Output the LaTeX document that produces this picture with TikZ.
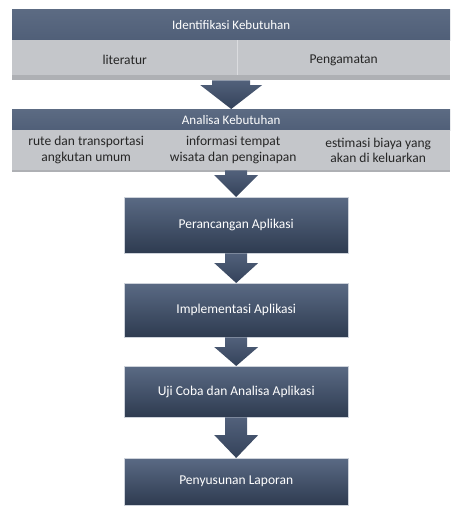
\documentclass[tikz,border=0pt]{standalone}
\usepackage{fontspec}
\setmainfont{Carlito}
\usetikzlibrary{calc}

\definecolor{barblue}{HTML}{5C6B83}
\definecolor{barbluelow}{HTML}{505F78}
\definecolor{bandgray}{HTML}{C4C6CA}
\definecolor{bandshade}{HTML}{AEB0B4}
\definecolor{stagetop}{HTML}{5A6A84}
\definecolor{stagelow}{HTML}{2E3B50}
\definecolor{arrowtop}{HTML}{52617B}
\definecolor{arrowlow}{HTML}{34425A}

\tikzset{
	bar/.style={rectangle, anchor=north west, inner sep=0pt, top color=barblue, bottom color=barbluelow,
		text=white, font=\fontsize{13}{15}\selectfont},
	band/.style={rectangle, anchor=north west, inner sep=0pt, fill=bandgray,
		text=black!85, align=center, font=\fontsize{13.5}{15.5}\selectfont},
	stage/.style={rectangle, anchor=north west, inner sep=0pt, minimum width=224pt,
		top color=stagetop, bottom color=stagelow, draw=white!70!stagetop, line width=0.4pt,
		text=white, font=\fontsize{13.5}{15}\selectfont},
	arrowshade/.style={top color=arrowtop, bottom color=arrowlow}
}

% block arrow: from, to, stem half width, head half width, head length
\newcommand{\stagearrow}[5]{%
	\shade[arrowshade] ($(#2.north |- #1.south)+(-#3,0)$) -- ($(#2.north)+(-#3,-#5)$)
		-- ($(#2.north)+(-#4,-#5)$) -- (#2.north) -- ($(#2.north)+(#4,-#5)$)
		-- ($(#2.north)+(#3,-#5)$) -- ($(#2.north |- #1.south)+(#3,0)$) -- cycle;}

\begin{document}
\begin{tikzpicture}[x=1pt, y=-1pt]

		\useasboundingbox (0,0) rectangle (450,506);

		% Identifikasi Kebutuhan
		\node[bar, minimum width=438pt, minimum height=31pt] (idk) at (12,9) {Identifikasi Kebutuhan};
		\node[band, minimum width=225pt, minimum height=40pt] (lit) at (12,40) {literatur};
		\node[band, minimum width=213pt, minimum height=40pt] (pgm) at (237,40) {Pengamatan};
		\fill[bandshade] ($(lit.south west)+(0,-5)$) rectangle (pgm.south east);
		\draw[white, opacity=0.4] (pgm.north west) -- ($(pgm.south west)+(0,-5)$);

		% Analisa Kebutuhan
		\node[bar, minimum width=438pt, minimum height=21pt] (akb) at (12,109) {Analisa Kebutuhan};
		\node[band, minimum width=148pt, minimum height=40pt] (rute) at (12,130)
			{rute dan transportasi\\angkutan umum};
		\node[band, minimum width=146pt, minimum height=40pt] (inf) at (160,130)
			{informasi tempat\\wisata dan penginapan};
		\node[band, minimum width=144pt, minimum height=40pt] (est) at (306,130)
			{estimasi biaya yang\\akan di keluarkan};
		\fill[bandshade] (rute.south west) rectangle ($(est.south east)+(0,2)$);

		% Tahapan
		\node[stage, minimum height=56pt] (per) at (124,197) {Perancangan Aplikasi};
		\node[stage, minimum height=54pt] (imp) at (124,283) {Implementasi Aplikasi};
		\node[stage, minimum height=51pt] (uji) at (124,366) {Uji Coba dan Analisa Aplikasi};
		\node[stage, minimum height=47pt] (pen) at (124,458) {Penyusunan Laporan};

		% Arrows
		\stagearrow{lit}{akb}{19}{31}{24}
		\stagearrow{inf}{per}{11}{22}{22}
		\stagearrow{per}{imp}{11}{22}{20}
		\stagearrow{imp}{uji}{11}{22}{19}
		\stagearrow{uji}{pen}{11}{22}{23}

	\end{tikzpicture}
\end{document}
